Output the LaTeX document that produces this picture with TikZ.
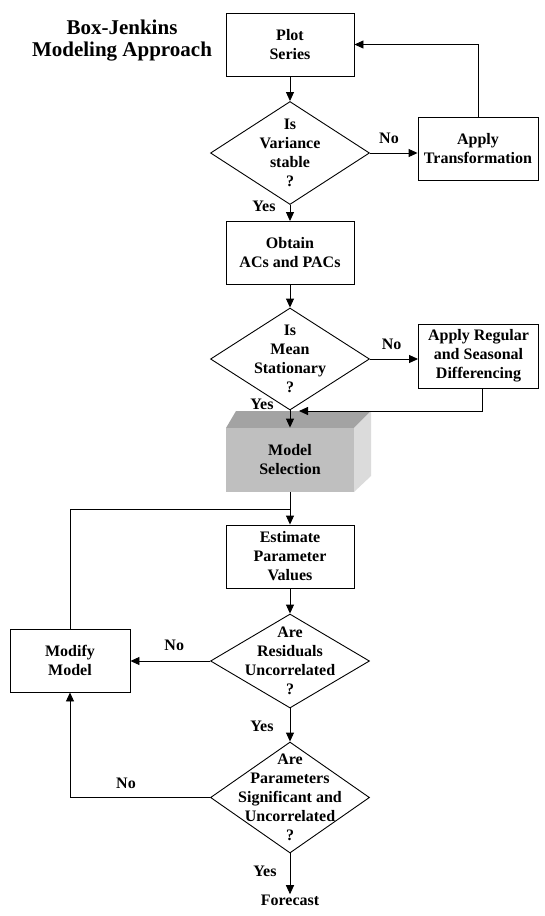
\documentclass[tikz,border=0pt]{standalone}
\usepackage{fontspec}
\setmainfont{Liberation Serif}
\usetikzlibrary{arrows.meta,shapes.geometric}

\begin{document}
\begin{tikzpicture}[x=1pt,y=-1pt,line width=0.9pt,
    font=\bfseries\fontsize{16}{19}\selectfont,
    >={Triangle[length=9pt,width=8pt]},
    stepbox/.style={draw,rectangle,minimum width=128pt,minimum height=63pt,align=center,inner sep=0pt},
    sidebox/.style={draw,rectangle,minimum width=120pt,minimum height=63pt,align=center,inner sep=0pt},
    question/.style={draw,diamond,minimum width=159pt,inner sep=-40pt,align=center},
    answer/.style={inner sep=0pt}]
  \useasboundingbox (0,0) rectangle (545,916);

  \node [font=\bfseries\fontsize{21}{22}\selectfont, align=center] (title) at (122,41) {Box-Jenkins\\Modeling Approach};

  \node [stepbox] (plot) at (290,44.5) {Plot\\Series};
  \node [question, minimum height=103pt] (var) at (290,153) {Is\\Variance\\stable\\?};
  \node [sidebox] (trans) at (478,149) {Apply\\Transformation};
  \node [stepbox] (acf) at (290,253) {Obtain\\ACs and PACs};
  \node [question, minimum height=102pt] (mean) at (290,359) {Is\\Mean\\Stationary\\?};
  \node [sidebox, minimum height=64pt] (diff) at (478.5,356) {Apply Regular\\and Seasonal\\Differencing};

  % model selection block
  \fill [gray!80!black!60] (226,428) -- ++(10,-17) -- ++(135,0) -- (354,428) -- cycle;
  \fill [gray!28] (354,428) -- ++(17,-17) -- ++(0,65) -- (354,492) -- cycle;
  \node [rectangle, fill=gray!50, minimum width=128pt, minimum height=64pt, align=center, inner sep=0pt] (sel) at (290,460) {Model\\Selection};

  \node [stepbox] (est) at (290,556.5) {Estimate\\Parameter\\Values};
  \node [question, minimum height=94pt] (resid) at (290,661) {Are\\Residuals\\Uncorrelated\\?};
  \node [sidebox] (modify) at (70,660.5) {Modify\\Model};
  \node [question, minimum height=111pt] (param) at (290,797.5) {Are\\Parameters\\Significant and\\Uncorrelated\\?};
  \node [answer] (fcst) at (290,900) {Forecast};

  \coordinate (selback) at (299,411);
  \coordinate (join) at (290,509);

  \draw [->] (plot) -- (var);
  \draw [->] (var.east) -- (var.east -| trans.west) node[answer, pos=0.4, above=9pt] (no1) {No};
  \draw [->] (trans.north) |- (plot.east);
  \draw [->] (var) -- (acf) node[answer, pos=0.1, left=14pt] (yes1) {Yes};
  \draw [->] (acf) -- (mean);
  \draw [->] (mean.east) -- (mean.east -| diff.west) node[answer, pos=0.45, above=9pt] (no2) {No};
  \draw [->] ([xshift=4pt]diff.south) |- (selback);
  \draw [->] (mean) -- (sel) node[answer, pos=0, left=16pt, yshift=6pt] (yes2) {Yes};
  \draw [->] (sel) -- (est);
  \draw (modify.north) |- (join);
  \draw [->] (est) -- (resid);
  \draw [->] (resid.west) -- (resid.west -| modify.east) node[answer, pos=0.45, above=10pt] (no3) {No};
  \draw [->] (resid) -- (param) node[answer, pos=0.55, left=16pt] (yes3) {Yes};
  \draw [->] (param.west) -| (modify.south) node[answer, pos=0.3, above=8pt] (no4) {No};
  \draw [->] (param) -- (fcst.north) node[answer, pos=0.45, left=13pt] (yes4) {Yes};
\end{tikzpicture}
\end{document}
